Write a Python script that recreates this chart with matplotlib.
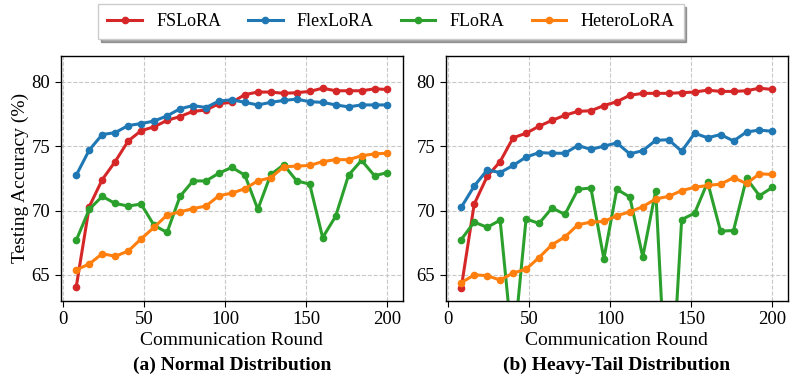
import matplotlib
matplotlib.use("Agg")
import matplotlib.pyplot as plt
import numpy as np

plt.rcParams['font.family'] = ['Liberation Serif', 'DejaVu Serif']
plt.rcParams['mathtext.fontset'] = 'stix'

rounds = list(range(8, 201, 8))

# (a) Normal Distribution
fslora_a = [64.1, 70.3, 72.4, 73.8, 75.4, 76.2, 76.5, 77.0, 77.3, 77.7, 77.8, 78.3, 78.4,
            79.0, 79.2, 79.2, 79.1, 79.15, 79.25, 79.5, 79.3, 79.3, 79.3, 79.45, 79.4]
flexlora_a = [72.75, 74.7, 75.9, 76.05, 76.6, 76.75, 76.95, 77.35, 77.9, 78.15, 78.0, 78.5, 78.6,
              78.4, 78.2, 78.4, 78.55, 78.65, 78.45, 78.4, 78.2, 78.05, 78.2, 78.2, 78.2]
flora_a = [67.7, 70.1, 71.1, 70.55, 70.35, 70.5, 68.85, 68.3, 71.1, 72.3, 72.3, 72.9, 73.35,
           72.75, 70.1, 72.8, 73.55, 72.3, 72.05, 67.9, 69.55, 72.75, 73.9, 72.7, 72.95]
hetero_a = [65.4, 65.85, 66.65, 66.45, 66.85, 67.8, 68.7, 69.65, 69.9, 70.15, 70.35, 71.15, 71.35,
            71.7, 72.3, 72.55, 73.4, 73.45, 73.5, 73.8, 73.95, 73.95, 74.25, 74.4, 74.45]

# (b) Heavy-Tail Distribution
fslora_b = [64.0, 70.5, 72.65, 73.8, 75.65, 76.0, 76.55, 77.0, 77.4, 77.7, 77.75, 78.15, 78.45,
            78.95, 79.1, 79.1, 79.1, 79.15, 79.2, 79.35, 79.25, 79.25, 79.3, 79.5, 79.4]
flexlora_b = [70.25, 71.9, 73.15, 72.95, 73.5, 74.15, 74.5, 74.45, 74.45, 75.05, 74.75, 75.0, 75.25,
              74.4, 74.65, 75.45, 75.5, 74.6, 76.0, 75.65, 75.9, 75.4, 76.1, 76.25, 76.15]
flora_b = [67.75, 69.1, 68.7, 69.25, 59.0, 69.35, 69.0, 70.2, 69.7, 71.65, 71.75, 66.25, 71.65,
           71.05, 66.4, 71.55, 52.0, 69.3, 69.8, 72.2, 68.4, 68.45, 72.5, 71.15, 71.8]
hetero_b = [64.4, 65.0, 64.95, 64.6, 65.15, 65.45, 66.35, 67.35, 67.95, 68.9, 69.1, 69.15, 69.6,
            69.9, 70.3, 70.9, 71.1, 71.55, 71.8, 71.95, 72.05, 72.55, 72.1, 72.85, 72.8]

labels = ['FSLoRA', 'FlexLoRA', 'FLoRA', 'HeteroLoRA']
colors = ['#d62728', '#1f77b4', '#2ca02c', '#ff7f0e']
titles = ['(a) Normal Distribution', '(b) Heavy-Tail Distribution']
xticks = [0, 50, 100, 150, 200]
yticks = [65, 70, 75, 80]

fig = plt.figure(figsize=(7.97, 3.88), dpi=100)
ax1 = fig.add_axes([0.0762, 0.225, 0.4295, 0.6307])
ax2 = fig.add_axes([0.5592, 0.225, 0.4295, 0.6307])

data = [[fslora_a, flexlora_a, flora_a, hetero_a], [fslora_b, flexlora_b, flora_b, hetero_b]]
handles = []
for i, (ax, series) in enumerate(zip([ax1, ax2], data)):
    for s, lab, c in zip(series, labels, colors):
        h, = ax.plot(rounds, s, color=c, lw=2.2, marker='o', ms=4.5, label=lab)
        if i == 0:
            handles.append(h)
    ax.set_ylim(63, 82)
    ax.set_xticks(xticks)
    ax.set_yticks(yticks)
    ax.grid(True, ls='--', color='#c8c8c8', lw=0.8)
    ax.tick_params(labelsize=13.5, direction='out', length=4)
    ax.set_xlabel('Communication Round', fontsize=14, labelpad=3)
    ax.text(0.5, -0.23, titles[i], transform=ax.transAxes, ha='center', va='top',
            fontsize=14, fontweight='bold')
    for sp in ax.spines.values():
        sp.set_linewidth(1.0)

ax1.set_ylabel('Testing Accuracy (%)', fontsize=14, labelpad=2)

leg = fig.legend(handles, labels, loc='center', bbox_to_anchor=(0.4905, 0.945), ncol=4,
                 fontsize=13, frameon=True, shadow=True, fancybox=False,
                 handlelength=1.9, handletextpad=0.8, columnspacing=1.5, borderpad=0.5)
leg.get_frame().set_edgecolor('#cccccc')

fig.savefig('out.png', dpi=100)
